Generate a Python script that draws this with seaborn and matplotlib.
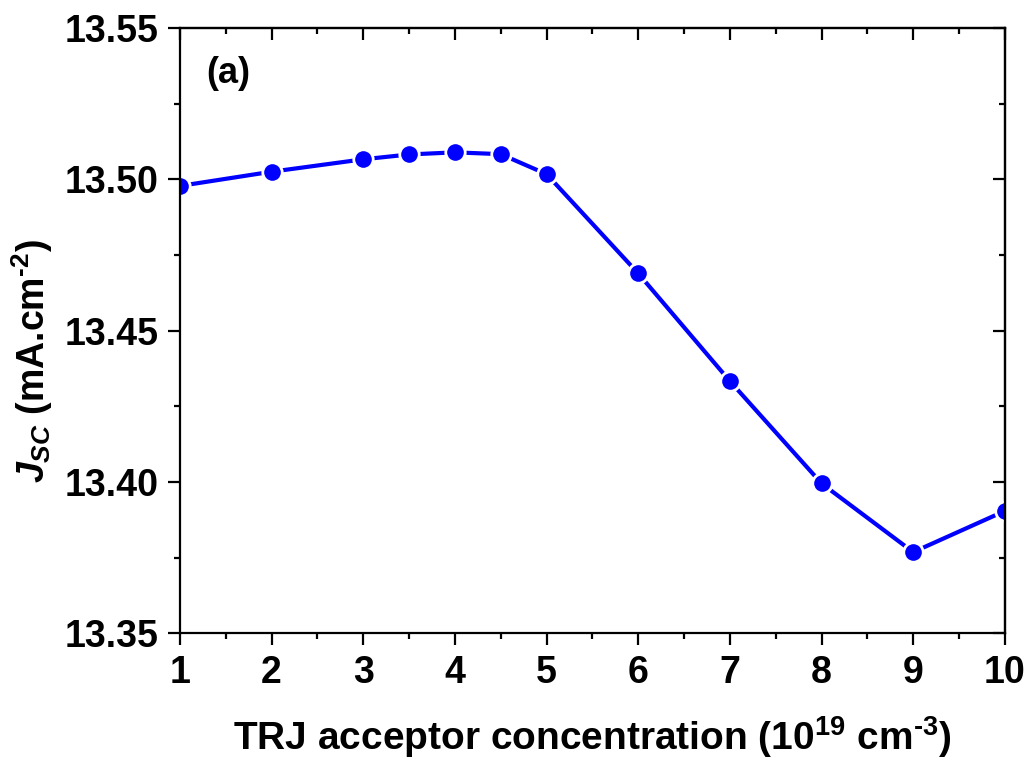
import matplotlib
matplotlib.use("Agg")
import matplotlib.pyplot as plt
import seaborn as sns
import pandas as pd
from matplotlib.ticker import MultipleLocator

# TRJ acceptor concentration (1e19 cm^-3) and short-circuit current density
concentration = [1, 2, 3, 3.5, 4, 4.5, 5, 6, 7, 8, 9, 10]
jsc = [13.4978, 13.5025, 13.5066, 13.5082, 13.5089, 13.5083,
       13.5017, 13.4689, 13.4333, 13.3995, 13.3768, 13.3904]
x_ticks = list(range(1, 11))
y_ticks = [13.35, 13.40, 13.45, 13.50, 13.55]
panel_label = "(a)"

sns.set_theme(style="ticks")
plt.rcParams["font.family"] = ["Liberation Sans", "DejaVu Sans"]
plt.rcParams["font.weight"] = "bold"
plt.rcParams["text.color"] = "black"
plt.rcParams["axes.labelcolor"] = "black"
plt.rcParams["xtick.color"] = "black"
plt.rcParams["ytick.color"] = "black"
plt.rcParams["mathtext.fontset"] = "custom"
plt.rcParams["mathtext.rm"] = "Liberation Sans:bold"
plt.rcParams["mathtext.it"] = "Liberation Sans:bold:italic"
plt.rcParams["mathtext.bf"] = "Liberation Sans:bold"
plt.rcParams["axes.linewidth"] = 1.6

df = pd.DataFrame({"conc": concentration, "jsc": jsc})

fig = plt.figure(figsize=(10.28, 7.62), dpi=100)
ax = fig.add_axes([0.175, 0.169, 0.8025, 0.7943])

sns.lineplot(data=df, x="conc", y="jsc", ax=ax, color="#0000FF",
             linewidth=3.0, marker="o", markersize=14,
             markerfacecolor="#0000FF", markeredgecolor="white",
             markeredgewidth=2.0)

ax.set_xlim(1, 10)
ax.set_ylim(13.35, 13.55)
ax.set_xticks(x_ticks)
ax.set_yticks(y_ticks)
ax.set_yticklabels([f"{v:.2f}" for v in y_ticks])
ax.xaxis.set_minor_locator(MultipleLocator(0.5))
ax.yaxis.set_minor_locator(MultipleLocator(0.025))

ax.tick_params(axis="both", which="major", direction="out", length=8.6,
               width=1.6, labelsize=27, color="black", pad=7)
ax.tick_params(axis="both", which="minor", direction="out", length=4.5,
               width=1.6, color="black")
for lbl in ax.get_xticklabels() + ax.get_yticklabels():
    lbl.set_fontweight("bold")
    lbl.set_color("black")

# Mirror axes on top and right with inward ticks
top = ax.secondary_xaxis("top")
top.set_xticks(x_ticks)
top.xaxis.set_minor_locator(MultipleLocator(0.5))
top.tick_params(which="major", direction="in", length=8.6, width=1.6, labeltop=False)
top.tick_params(which="minor", direction="in", length=4.5, width=1.6)
right = ax.secondary_yaxis("right")
right.set_yticks(y_ticks)
right.yaxis.set_minor_locator(MultipleLocator(0.025))
right.tick_params(which="major", direction="in", length=8.6, width=1.6, labelright=False)
right.tick_params(which="minor", direction="in", length=4.5, width=1.6)
for sp in ax.spines.values():
    sp.set_color("black")
    sp.set_linewidth(1.6)

ax.set_xlabel(r"TRJ acceptor concentration (10$^{19}$ cm$^{\text{-3}}$)",
              fontsize=28, fontweight="bold", labelpad=17, color="black")
ax.set_ylabel(r"$J_{SC}$ (mA.cm$^{\text{-2}}$)", fontsize=27, fontweight="bold",
              color="black")
ax.yaxis.set_label_coords(-0.151, 0.45)

ax.text(0.032, 0.925, panel_label, transform=ax.transAxes, fontsize=26,
        fontweight="bold", ha="left", va="center", color="black")

fig.savefig("out.png", dpi=100)
